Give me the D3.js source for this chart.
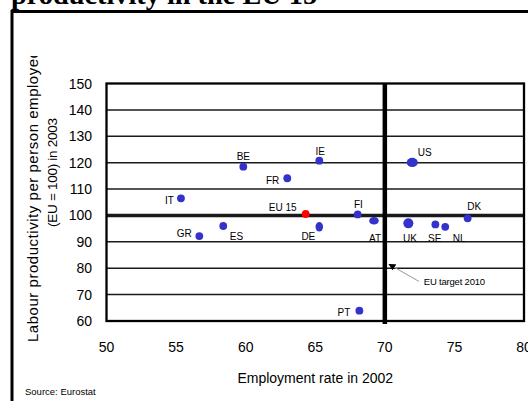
<!DOCTYPE html>
<html><head><meta charset="utf-8">
<script src="https://cdn.jsdelivr.net/npm/d3@7"></script>
<style>body{margin:0;background:#fff}svg{display:block}</style>
</head><body>
<script>
const countries = ["BE","FR","IT","EU 15","GR","ES","DE","IE","FI","AT","US","UK","SE","NL","DK","PT"];
const employment = [59.83,62.99,55.35,64.31,56.67,58.39,65.29,65.29,68.05,69.22,71.97,71.69,73.63,74.34,75.95,68.17];
const productivity = [118.5,114.1,106.5,100.55,92.2,96.0,95.7,120.75,100.4,98.0,120.1,97.0,96.6,95.7,98.9,63.9];
const xTicks = [50,55,60,65,70,75,80];
const yTicks = [60,70,80,90,100,110,120,130,140,150];
const targetRate = 70;
const euLevel = 100;

// layout / style (not data)
const labelPos = {
  "BE":[0,-10,"middle"],"FR":[-8,2,"end"],"IT":[-7,2,"end"],"EU 15":[-9,-6,"end"],
  "GR":[-7.5,-3,"end"],"ES":[6.5,10,"start"],"DE":[-4,10,"end"],"IE":[1,-9,"middle"],
  "FI":[0.7,-10,"middle"],"AT":[1,17.5,"middle"],"US":[5.5,-10,"start"],"UK":[1.7,15,"middle"],
  "SE":[-0.6,14,"middle"],"NL":[14,12,"middle"],"DK":[6.5,-11.5,"middle"],"PT":[-9,1.6,"end"]
};
const dotShape = {"US":[5.6,4.6],"UK":[5,5],"DE":[3.8,4.8],"AT":[4.8,3.8]};

const W=528,H=401;
const svg=d3.select("body").append("svg").attr("width",W).attr("height",H);
const x=d3.scaleLinear().domain([50,80]).range([106.5,524]);
const y=d3.scaleLinear().domain([60,150]).range([321,83.5]);

// title (clipped at top)
svg.append("text").attr("x",11).attr("y",4)
  .attr("font-family","'Liberation Serif',serif").attr("font-weight","bold")
  .attr("font-size",28.3).attr("fill","#000").text("productivity in the EU 15");

// outer frame
svg.append("rect").attr("x",12).attr("y",11.5).attr("width",700).attr("height",600)
  .attr("fill","none").attr("stroke","#000").attr("stroke-width",3);

const g=svg.append("g");
// horizontal gridlines
g.selectAll("line.grid").data(yTicks.filter(t=>t>60&&t<150)).join("line")
  .attr("x1",x(50)).attr("x2",x(80)).attr("y1",d=>y(d)).attr("y2",d=>y(d))
  .attr("stroke","#1a1a1a").attr("stroke-width",d=>d===euLevel?3.5:1.5);

// plot border
g.append("rect").attr("x",x(50)).attr("y",y(150)).attr("width",x(80)-x(50)).attr("height",y(60)-y(150))
  .attr("fill","none").attr("stroke","#000").attr("stroke-width",2.3);

// vertical target line
g.append("line").attr("x1",x(targetRate)).attr("x2",x(targetRate)).attr("y1",y(150)).attr("y2",y(60)+3)
  .attr("stroke","#000").attr("stroke-width",4.5);

// y tick labels
svg.selectAll("text.yt").data(yTicks).join("text")
  .attr("x",92).attr("y",d=>y(d)+5).attr("text-anchor","end")
  .attr("font-family","'Liberation Sans',Arial,sans-serif").attr("font-size",14).attr("fill","#000")
  .text(d=>d);
// x tick labels
svg.selectAll("text.xt").data(xTicks).join("text")
  .attr("x",d=>x(d)).attr("y",352).attr("text-anchor","middle")
  .attr("font-family","'Liberation Sans',Arial,sans-serif").attr("font-size",14).attr("fill","#000")
  .text(d=>d);

// axis titles
svg.append("text").attr("x",x(65)).attr("y",383).attr("text-anchor","middle")
  .attr("font-family","'Liberation Sans',Arial,sans-serif").attr("font-size",14).text("Employment rate in 2002");

const clip=svg.append("defs").append("clipPath").attr("id","yclip");
clip.append("rect").attr("x",14).attr("y",56).attr("width",80).attr("height",340);
const yt=svg.append("g").attr("clip-path","url(#yclip)");
yt.append("text").attr("transform","translate(37.5,342) rotate(-90)").attr("text-anchor","start")
  .attr("font-family","'Liberation Sans',Arial,sans-serif").attr("font-size",15)
  .attr("textLength",292).attr("lengthAdjust","spacing").text("Labour productivity per person employed");
yt.append("text").attr("transform","translate(57,227) rotate(-90)").attr("text-anchor","start")
  .attr("font-family","'Liberation Sans',Arial,sans-serif").attr("font-size",13.5)
  .attr("textLength",109).attr("lengthAdjust","spacing").text("(EU = 100) in 2003");

// source
svg.append("text").attr("x",25).attr("y",395).attr("font-family","'Liberation Sans',Arial,sans-serif")
  .attr("font-size",9.5).text("Source: Eurostat");

// points
const pts=countries.map((c,i)=>({c,x:employment[i],y:productivity[i]}));
g.selectAll("ellipse.pt").data(pts).join("ellipse")
  .attr("cx",d=>x(d.x)).attr("cy",d=>y(d.y))
  .attr("rx",d=>(dotShape[d.c]||[3.9,3.9])[0]).attr("ry",d=>(dotShape[d.c]||[3.9,3.9])[1])
  .attr("fill",d=>d.c==="EU 15"?"#ff0000":"#3333cc");
g.selectAll("text.lbl").data(pts).join("text")
  .attr("x",d=>x(d.x)+labelPos[d.c][0]).attr("y",d=>y(d.y)+labelPos[d.c][1]+3.5)
  .attr("text-anchor",d=>labelPos[d.c][2])
  .attr("font-family","'Liberation Sans',Arial,sans-serif").attr("font-size",10).attr("fill","#000")
  .text(d=>d.c);

// annotation
const ann={tail:[72.45,75.0],tip:[70.3,81.5],text:[72.8,74.8],label:"EU target 2010"};
svg.append("defs").append("marker").attr("id","arr").attr("viewBox","0 0 10 10").attr("refX",9).attr("refY",5)
  .attr("markerWidth",7).attr("markerHeight",7).attr("markerUnits","userSpaceOnUse").attr("orient","auto")
  .append("path").attr("d","M0,0L10,5L0,10z").attr("fill","#000");
g.append("line").attr("x1",x(ann.tail[0])).attr("y1",y(ann.tail[1])).attr("x2",x(ann.tip[0])).attr("y2",y(ann.tip[1]))
  .attr("stroke","#999").attr("stroke-width",1).attr("marker-end","url(#arr)");
g.append("text").attr("x",x(ann.text[0])).attr("y",y(ann.text[1])+3.5)
  .attr("font-family","'Liberation Sans',Arial,sans-serif").attr("font-size",9.5).attr("letter-spacing",-0.2).text(ann.label);
</script>
</body></html>
